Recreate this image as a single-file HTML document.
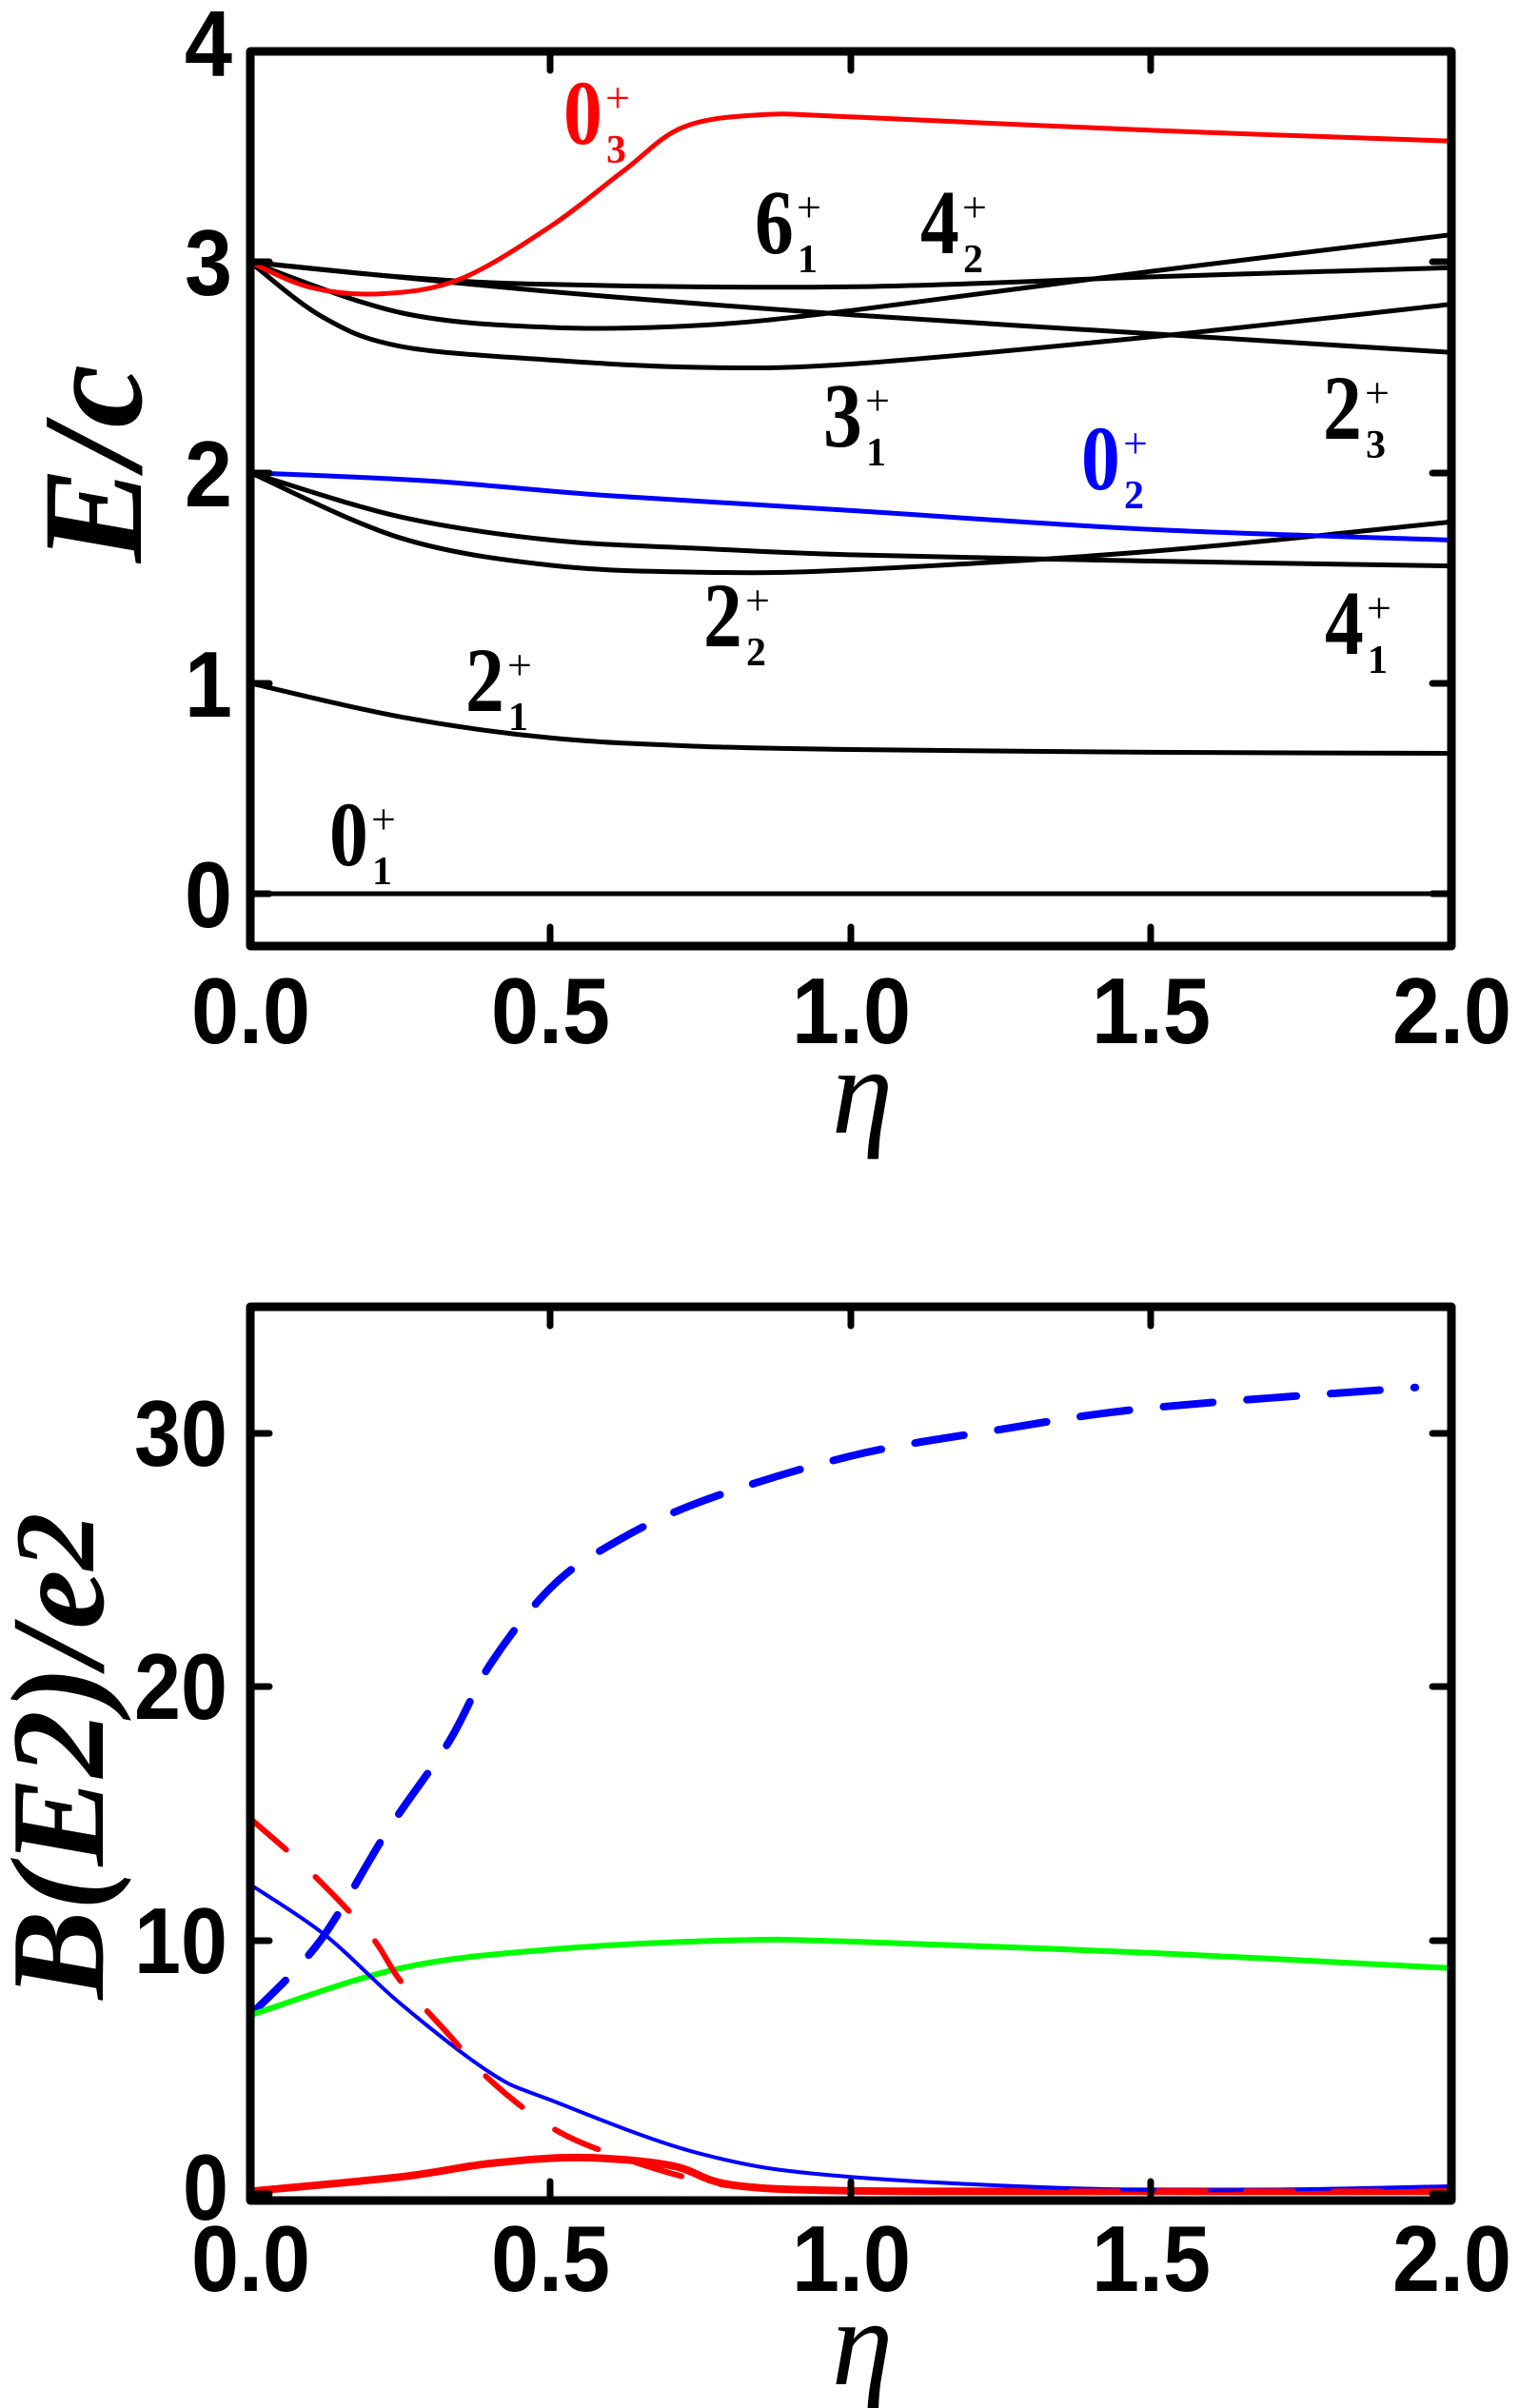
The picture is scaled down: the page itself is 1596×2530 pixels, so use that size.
<!DOCTYPE html>
<html><head><meta charset="utf-8"><style>
html,body{margin:0;padding:0;background:#fff;}
svg{display:block;}
.tk{font-family:"Liberation Sans",sans-serif;font-weight:bold;font-size:98px;}
.lb{font-family:"Liberation Serif",serif;font-weight:bold;}
</style></head><body>
<svg id="s" width="1596" height="2530" viewBox="0 0 1596 2530" xmlns="http://www.w3.org/2000/svg">
<g id="curves"></g>
<!-- top frame -->
<rect x="263" y="54" width="1262" height="940" fill="none" stroke="#000" stroke-width="9" stroke-linejoin="round"/>
<g stroke="#000" stroke-width="7" stroke-linecap="round">
<line x1="578" y1="54" x2="578" y2="74"/><line x1="894" y1="54" x2="894" y2="74"/><line x1="1209" y1="54" x2="1209" y2="74"/>
<line x1="578" y1="994" x2="578" y2="974"/><line x1="894" y1="994" x2="894" y2="974"/><line x1="1209" y1="994" x2="1209" y2="974"/>
<line x1="263" y1="939" x2="283" y2="939"/><line x1="263" y1="718" x2="283" y2="718"/><line x1="263" y1="497" x2="283" y2="497"/><line x1="263" y1="275" x2="283" y2="275"/>
<line x1="1525" y1="939" x2="1505" y2="939"/><line x1="1525" y1="718" x2="1505" y2="718"/><line x1="1525" y1="497" x2="1505" y2="497"/><line x1="1525" y1="275" x2="1505" y2="275"/>
</g>
<g class="tk">
<text x="194" y="974" textLength="50" lengthAdjust="spacingAndGlyphs">0</text><text x="194" y="753" textLength="50" lengthAdjust="spacingAndGlyphs">1</text><text x="194" y="532" textLength="50" lengthAdjust="spacingAndGlyphs">2</text><text x="194" y="310" textLength="50" lengthAdjust="spacingAndGlyphs">3</text><text x="194" y="80" textLength="50" lengthAdjust="spacingAndGlyphs">4</text>
</g>
<g class="tk">
<text x="201" y="1096" textLength="125" lengthAdjust="spacingAndGlyphs">0.0</text><text x="516" y="1096" textLength="125" lengthAdjust="spacingAndGlyphs">0.5</text><text x="832" y="1096" textLength="125" lengthAdjust="spacingAndGlyphs">1.0</text><text x="1147" y="1096" textLength="125" lengthAdjust="spacingAndGlyphs">1.5</text><text x="1463" y="1096" textLength="125" lengthAdjust="spacingAndGlyphs">2.0</text>
</g>
<text x="906" y="1190" text-anchor="middle" font-family="Liberation Serif,serif" font-style="italic" font-size="130">η</text>
<text transform="translate(148,487) rotate(-90)" text-anchor="middle" font-family="Liberation Serif,serif" font-style="italic" font-weight="bold" font-size="150">E/c</text>

<!-- bottom frame -->
<rect x="263" y="1373" width="1262" height="939" fill="none" stroke="#000" stroke-width="9" stroke-linejoin="round"/>
<g stroke="#000" stroke-width="7" stroke-linecap="round">
<line x1="578" y1="1373" x2="578" y2="1393"/><line x1="894" y1="1373" x2="894" y2="1393"/><line x1="1209" y1="1373" x2="1209" y2="1393"/>
<line x1="578" y1="2312" x2="578" y2="2292"/><line x1="894" y1="2312" x2="894" y2="2292"/><line x1="1209" y1="2312" x2="1209" y2="2292"/>
<line x1="263" y1="2305" x2="283" y2="2305"/><line x1="263" y1="2039" x2="283" y2="2039"/><line x1="263" y1="1772" x2="283" y2="1772"/><line x1="263" y1="1506" x2="283" y2="1506"/>
<line x1="1525" y1="2305" x2="1505" y2="2305"/><line x1="1525" y1="2039" x2="1505" y2="2039"/><line x1="1525" y1="1772" x2="1505" y2="1772"/><line x1="1525" y1="1506" x2="1505" y2="1506"/>
</g>
<g class="tk">
<text x="192" y="2332" textLength="48" lengthAdjust="spacingAndGlyphs">0</text><text x="141" y="2073" textLength="98" lengthAdjust="spacingAndGlyphs">10</text><text x="141" y="1806" textLength="98" lengthAdjust="spacingAndGlyphs">20</text><text x="141" y="1540" textLength="98" lengthAdjust="spacingAndGlyphs">30</text>
</g>
<g class="tk">
<text x="201" y="2407" textLength="125" lengthAdjust="spacingAndGlyphs">0.0</text><text x="516" y="2407" textLength="125" lengthAdjust="spacingAndGlyphs">0.5</text><text x="832" y="2407" textLength="125" lengthAdjust="spacingAndGlyphs">1.0</text><text x="1147" y="2407" textLength="125" lengthAdjust="spacingAndGlyphs">1.5</text><text x="1463" y="2407" textLength="125" lengthAdjust="spacingAndGlyphs">2.0</text>
</g>
<text x="906" y="2505" text-anchor="middle" font-family="Liberation Serif,serif" font-style="italic" font-size="130">η</text>
<text transform="translate(108,1845) rotate(-90)" text-anchor="middle" font-family="Liberation Serif,serif" font-style="italic" font-weight="bold" font-size="140">B(E2)/e<tspan font-size="120" dy="-10">2</tspan></text>
<g id="labels"></g>
</svg>
<script>
var NS="http://www.w3.org/2000/svg";
function cr(p){var d="M"+p[0][0].toFixed(1)+","+p[0][1].toFixed(1);
for(var i=0;i<p.length-1;i++){var p0=p[i-1]||p[i],p1=p[i],p2=p[i+1],p3=p[i+2]||p2;
d+=" C"+(p1[0]+(p2[0]-p0[0])/6).toFixed(1)+","+(p1[1]+(p2[1]-p0[1])/6).toFixed(1)+" "+(p2[0]-(p3[0]-p1[0])/6).toFixed(1)+","+(p2[1]-(p3[1]-p1[1])/6).toFixed(1)+" "+p2[0].toFixed(1)+","+p2[1].toFixed(1);}
return d;}
var G=document.getElementById("curves");
function add(pts,fx,fy,col,w,dash){var p=pts.map(function(a){return [fx(a[0]),fy(a[1])];});
var e=document.createElementNS(NS,"path");e.setAttribute("d",cr(p));e.setAttribute("fill","none");
e.setAttribute("stroke",col);e.setAttribute("stroke-width",w);e.setAttribute("stroke-linecap","round");e.setAttribute("stroke-linejoin","round");
if(dash)e.setAttribute("stroke-dasharray",dash);G.appendChild(e);}
var X=function(t){return 263+631*t;};
var Y1=function(e){return 939-221.2*e;};
var Y2=function(b){return 2305-26.64*b;};
// top
add([[0,0],[2,0]],X,Y1,"#000",5);
add([[0,1],[0.25,0.84],[0.5,0.74],[0.75,0.70],[1,0.685],[1.5,0.672],[2,0.667]],X,Y1,"#000",5);
add([[0,2],[0.25,1.79],[0.5,1.68],[0.75,1.64],[1,1.61],[1.5,1.58],[2,1.557]],X,Y1,"#000",5);
add([[0,2],[0.25,1.69],[0.5,1.56],[0.75,1.527],[1,1.538],[1.5,1.626],[2,1.766]],X,Y1,"#000",5);
add([[0,2],[0.3,1.96],[0.6,1.89],[1,1.82],[1.5,1.73],[2,1.68]],X,Y1,"#0000ff",5);
add([[0,3],[0.25,2.93],[0.5,2.894],[1,2.883],[1.5,2.93],[2,2.974]],X,Y1,"#000",5);
add([[0,3],[0.5,2.86],[1,2.75],[1.5,2.66],[2,2.571]],X,Y1,"#000",5);
add([[0,3],[0.25,2.76],[0.5,2.69],[0.75,2.7],[1,2.77],[1.5,2.956],[2,3.13]],X,Y1,"#000",5);
add([[0,3],[0.12,2.74],[0.25,2.6],[0.5,2.535],[0.75,2.5],[1,2.516],[1.5,2.645],[2,2.80]],X,Y1,"#000",5);
add([[0,3],[0.1,2.88],[0.22,2.85],[0.35,2.92],[0.5,3.17],[0.62,3.43],[0.72,3.64],[0.85,3.70],[1,3.69],[1.5,3.626],[2,3.575]],X,Y1,"#ff0000",5);
// bottom
add([[0,7.05],[0.115,9.94],[0.228,14.3],[0.33,17.8],[0.4,20.9],[0.5,23.9],[0.6,25.6],[0.75,27.3],[1,29.1],[1.25,30.15],[1.5,31.0],[1.94,31.8]],X,Y2,"#0000ff",8,"52 36");
add([[0,0.1],[0.25,0.67],[0.4,1.2],[0.55,1.43],[0.7,1.12],[0.8,0.36],[1,0.12],[1.5,0.1],[2,0.1]],X,Y2,"#ff0000",8);
add([[0,7.05],[0.25,8.9],[0.5,9.64],[0.8,10.0],[1,9.95],[1.5,9.5],[2,8.9]],X,Y2,"#00ff00",6);
add([[0,12.2],[0.125,10.2],[0.25,7.5],[0.4,4.77],[0.5,3.7],[0.75,1.58],[1,0.67],[1.5,0.15],[2,0.3]],X,Y2,"#0000ff",4);
add([[0,14.8],[0.1,12.7],[0.2,10.2],[0.25,8.4],[0.33,6.3],[0.4,4.47],[0.5,2.64],[0.6,1.58],[0.75,0.52],[0.9,0.15],[1.2,0.1],[2,0.1]],X,Y2,"#ff0000",6,"50 42");
// labels
var L=document.getElementById("labels");
function lab(d,sub,x,top,col){var b=top+66;
var t=document.createElementNS(NS,"text");t.setAttribute("class","lb");t.setAttribute("fill",col);
t.setAttribute("x",x);t.setAttribute("y",b);t.setAttribute("font-size","96");
t.setAttribute("transform","translate("+x+",0) scale(0.85,1) translate("+(-x)+",0)");t.textContent=d;L.appendChild(t);
var s=document.createElementNS(NS,"text");s.setAttribute("class","lb");s.setAttribute("fill",col);
s.setAttribute("x",x+45);s.setAttribute("y",b+20);s.setAttribute("font-size","42");s.textContent=sub;L.appendChild(s);
var p=document.createElementNS(NS,"text");p.setAttribute("fill",col);p.setAttribute("font-family","Liberation Serif,serif");
p.setAttribute("x",x+44);p.setAttribute("y",b-33);p.setAttribute("font-size","46");p.textContent="+";L.appendChild(p);}
lab("0","3",592,85,"#ff0000");
lab("6","1",793,200,"#000");
lab("4","2",967,200,"#000");
lab("3","1",865,403,"#000");
lab("2","3",1390,395,"#000");
lab("0","2",1136,448,"#0000ff");
lab("2","2",739,613,"#000");
lab("4","1",1392,621,"#000");
lab("2","1",489,681,"#000");
lab("0","1",346,843,"#000");
</script>
</body></html>
